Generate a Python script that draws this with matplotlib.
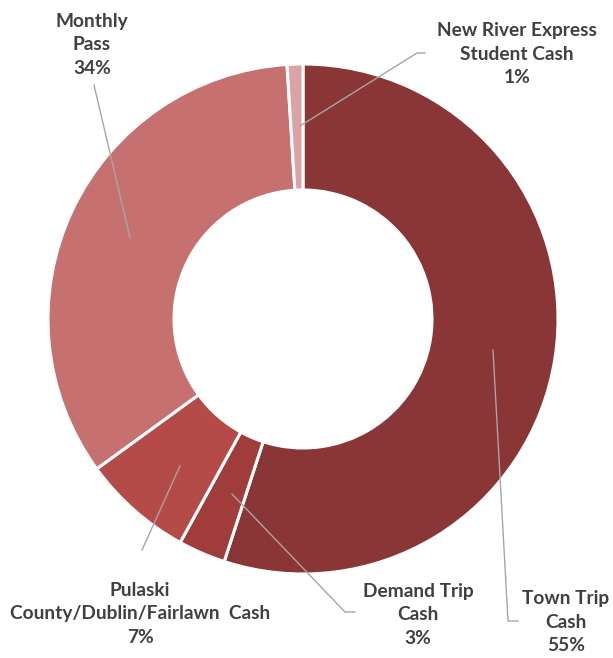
import matplotlib.pyplot as plt

labels = ['Town Trip\nCash', 'Demand Trip\nCash', 'Pulaski\nCounty/Dublin/Fairlawn  Cash',
          'Monthly\nPass', 'New River Express\nStudent Cash']
shares = [55, 3, 7, 34, 1]
colors = ['#8A3536', '#A03D3B', '#B54B48', '#C6716F', '#DBA3A3']

# label text centres and leader lines (pixel coords, y from top)
label_pos = [(566, 622), (418, 615), (140, 614), (92, 45), (517, 54)]
leaders = [
    [(493, 350), (508, 621), (518, 621)],
    [(232, 494), (345, 612), (355, 612)],
    [(180, 466), (142, 550)],
    [(130, 238), (94, 85)],
    [(300, 126), (417, 53), (425, 53)],
]

W, H = 613, 658
fig = plt.figure(figsize=(W / 100, H / 100), dpi=100)
ax = fig.add_axes([0, 0, 1, 1])

ax.pie(shares, colors=colors, startangle=90, counterclock=False,
       center=(303, H - 319), radius=255, frame=True,
       wedgeprops=dict(width=126, edgecolor='white', linewidth=2.2))
ax.set_xlim(0, W)
ax.set_ylim(0, H)
ax.set_aspect('equal')
ax.axis('off')

for lab, s, (x, y), pts in zip(labels, shares, label_pos, leaders):
    xs = [p[0] for p in pts]
    ys = [H - p[1] for p in pts]
    ax.plot(xs, ys, color='#A6A6A6', lw=1.0)
    ax.text(x, H - y, f'{lab}\n{s}%', ha='center', va='center',
            fontsize=13.8, fontweight='bold', color='#404040',
            family=['Lato', 'DejaVu Sans'], linespacing=1.45)

fig.savefig('out.png', dpi=100)
